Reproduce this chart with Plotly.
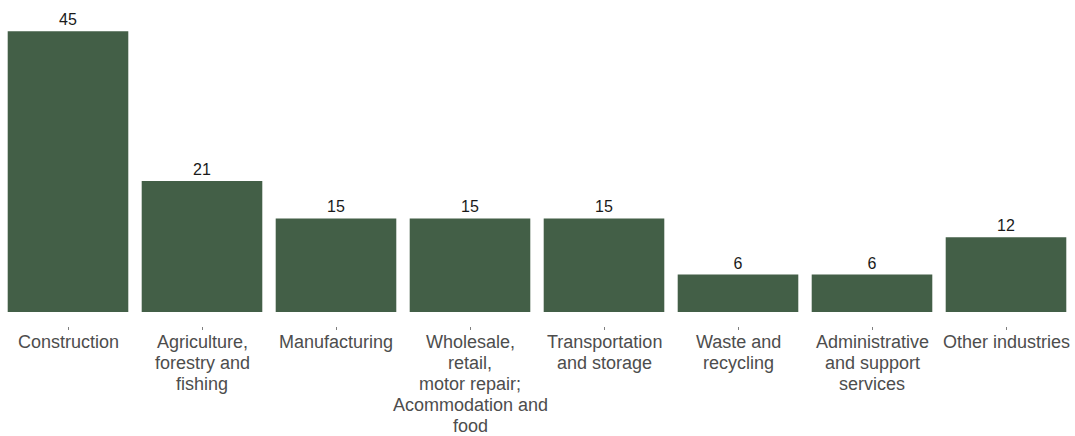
import plotly.graph_objects as go

categories = [
    "Construction",
    "Agriculture,<br>forestry and<br>fishing",
    "Manufacturing",
    "Wholesale,<br>retail,<br>motor repair;<br>Acommodation and<br>food",
    "Transportation<br>and storage",
    "Waste and<br>recycling",
    "Administrative<br>and support<br>services",
    "Other industries",
]
values = [45, 21, 15, 15, 15, 6, 6, 12]

FONT = "Liberation Sans, Arial"

fig = go.Figure(
    go.Bar(
        x=categories,
        y=values,
        width=0.9,
        marker=dict(color="#435F47", line=dict(width=0)),
        text=[str(v) for v in values],
        textposition="outside",
        textfont=dict(size=16, color="#1a1a1a", family=FONT),
        cliponaxis=False,
        hoverinfo="skip",
    )
)

# category labels, one annotation per line to match the tighter line spacing
annotations = []
for cat in categories:
    for i, line in enumerate(cat.split("<br>")):
        annotations.append(
            dict(
                x=cat,
                xref="x",
                y=0,
                yref="paper",
                yanchor="middle",
                xanchor="center",
                yshift=-16 - 21 * i,
                text=line,
                showarrow=False,
                font=dict(size=18, color="#4d4d4d", family=FONT),
            )
        )

fig.update_layout(
    width=1075,
    height=436,
    margin=dict(l=1, r=2, t=0, b=110),
    plot_bgcolor="white",
    paper_bgcolor="white",
    showlegend=False,
    font=dict(family=FONT, size=18, color="#4d4d4d"),
    annotations=annotations,
    xaxis=dict(
        range=[-0.5, 7.5],
        showgrid=False,
        zeroline=False,
        showline=False,
        ticks="outside",
        ticklen=3,
        tickwidth=1,
        tickcolor="#7f7f7f",
        showticklabels=False,
    ),
    yaxis=dict(
        range=[-2.24, 50],
        visible=False,
        showgrid=False,
        zeroline=False,
    ),
)

fig.write_html(
    "out.html",
    config={"displayModeBar": False},
    post_script="document.body.style.margin='0';",
)
